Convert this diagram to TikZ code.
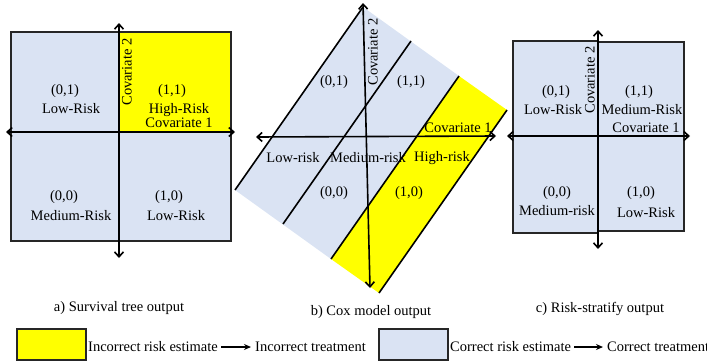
\documentclass[tikz,border=0pt]{standalone}
\usepackage{fontspec}
\setmainfont{Liberation Serif}
\usetikzlibrary{arrows.meta}
\definecolor{riskblue}{RGB}{218,227,243}
\definecolor{riskyellow}{RGB}{255,255,0}
\tikzset{
  lbl/.style={font=\fontsize{14.5}{16}\selectfont, inner sep=0pt},
  cell/.style={draw=black!85, line width=1.2pt},
  axis/.style={line width=1.6pt, {Straight Barb[length=5pt,width=9pt]}-{Straight Barb[length=5pt,width=9pt]}},
  split/.style={line width=1.6pt},
  legarrow/.style={line width=1.2pt, -{Stealth[length=7pt,width=6pt]}, shorten <=3pt, shorten >=4pt}
}

\begin{document}
\begin{tikzpicture}[x=1pt,y=-1pt]
  \useasboundingbox (0,0) rectangle (707,362);

  % a) survival tree: four quadrants, (1,1) marked wrong
  \fill[riskblue] (11,32) rectangle (231,241);
  \fill[riskyellow] (119,32) rectangle (231,132);
  \draw[cell] (11,32) rectangle (231,241);
  \coordinate (aW) at (6,132);
  \coordinate (aE) at (235,132);
  \coordinate (aN) at (119,23);
  \coordinate (aS) at (119,258);
  \draw[axis] (aW) -- (aE);
  \draw[axis] (aS) -- (aN);

  \node[lbl] (a01) at (65,91) {(0,1)};
  \node[lbl] (a01r) at (71,109) {Low-Risk};
  \node[lbl] (a11) at (172,91) {(1,1)};
  \node[lbl] (a11r) at (179,110) {High-Risk};
  \node[lbl] (acov1) at (179,123) {Covariate 1};
  \node[lbl, rotate=90] (acov2) at (127,72) {Covariate 2};
  \node[lbl] (a00) at (64,197) {(0,0)};
  \node[lbl] (a00r) at (71,216) {Medium-Risk};
  \node[lbl] (a10) at (169,197) {(1,0)};
  \node[lbl] (a10r) at (176,216) {Low-Risk};

  % b) cox model: tilted strips
  \coordinate (bT) at (363,7);
  \coordinate (bR) at (507,110);
  \coordinate (bB) at (379,293);
  \coordinate (bL) at (235,190);
  \coordinate (bP1) at (411,41);
  \coordinate (bQ1) at (283,224);
  \coordinate (bP2) at (459,76);
  \coordinate (bQ2) at (331,259);
  \fill[riskblue] (bT) -- (bP2) -- (bQ2) -- (bL) -- cycle;
  \fill[riskyellow] (bP2) -- (bR) -- (bB) -- (bQ2) -- cycle;
  \draw[split] (bT) -- (bL);
  \draw[split] (bP1) -- (bQ1);
  \draw[split] (bP2) -- (bQ2);
  \draw[split] (bR) -- (bB);
  \coordinate (bW) at (256,137);
  \coordinate (bE) at (496,136);
  \coordinate (bN) at (363,3);
  \coordinate (bS) at (370,288);
  \draw[axis] (bW) -- (bE);
  \draw[axis] (bS) -- (bN);

  \node[lbl] (b01) at (334,82) {(0,1)};
  \node[lbl] (b11) at (411,82) {(1,1)};
  \node[lbl, rotate=90] (bcov2) at (373,52) {Covariate 2};
  \node[lbl] (bcov1) at (458,128) {Covariate 1};
  \node[lbl] (blow) at (293,158) {Low-risk};
  \node[lbl] (bmed) at (368,158) {Medium-risk};
  \node[lbl] (bhigh) at (442,158) {High-risk};
  \node[lbl] (b00) at (334,193) {(0,0)};
  \node[lbl] (b10) at (409,193) {(1,0)};

  % c) risk-stratify: all quadrants right
  \fill[riskblue] (513,41) rectangle (598,233);
  \fill[riskblue] (598,42) rectangle (684,231);
  \draw[cell] (513,41) rectangle (598,233);
  \draw[cell] (598,42) rectangle (684,231);
  \coordinate (cW) at (507,136);
  \coordinate (cE) at (690,136);
  \coordinate (cN) at (598,30);
  \coordinate (cS) at (598,249);
  \draw[axis] (cW) -- (cE);
  \draw[axis] (cS) -- (cN);

  \node[lbl] (c01) at (556,92) {(0,1)};
  \node[lbl] (c01r) at (553,110) {Low-Risk};
  \node[lbl, rotate=90] (ccov2) at (590,80) {Covariate 2};
  \node[lbl] (c11) at (639,92) {(1,1)};
  \node[lbl] (c11r) at (642,110) {Medium-Risk};
  \node[lbl] (ccov1) at (646,128) {Covariate 1};
  \node[lbl] (c00) at (557,193) {(0,0)};
  \node[lbl] (c00r) at (557,211) {Medium-risk};
  \node[lbl] (c10) at (641,193) {(1,0)};
  \node[lbl] (c10r) at (646,213) {Low-Risk};

  % captions
  \node[lbl] (capa) at (119,308) {a) Survival tree output};
  \node[lbl] (capb) at (371,312) {b) Cox model output};
  \node[lbl] (capc) at (600,309) {c) Risk-stratify output};

  % legend
  \draw[cell, fill=riskyellow] (17,329) rectangle (86,360);
  \node[lbl, right] (leginc) at (88,347) {Incorrect risk estimate};
  \node[lbl, right] (legincb) at (255,347) {Incorrect treatment};
  \draw[legarrow] (leginc) -- (legincb);
  \draw[cell, fill=riskblue] (379,329) rectangle (448,360);
  \node[lbl, right] (legcor) at (450,347) {Correct risk estimate};
  \node[lbl, right] (legcorb) at (607,347) {Correct treatment};
  \draw[legarrow] (legcor) -- (legcorb);
\end{tikzpicture}
\end{document}
